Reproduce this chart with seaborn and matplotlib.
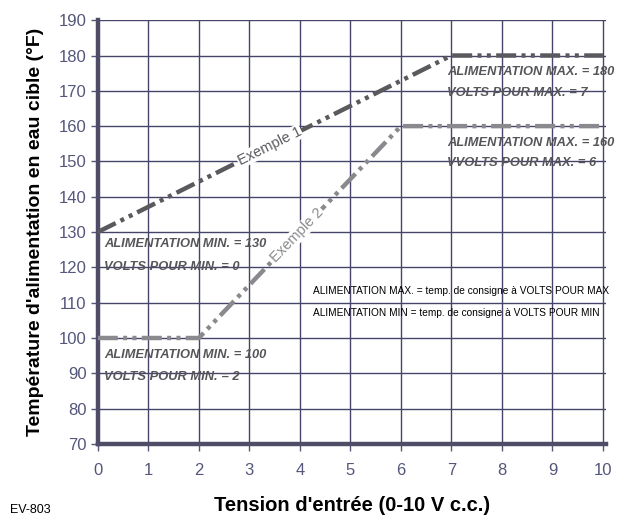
import matplotlib
matplotlib.use("Agg")
import matplotlib.pyplot as plt
import seaborn as sns
import pandas as pd

# Data
ex1_volts = [0, 7, 10]
ex1_temp = [130, 180, 180]
ex2_volts = [0, 2, 6, 10]
ex2_temp = [100, 100, 160, 160]
x_ticks = list(range(0, 11))
y_ticks = list(range(70, 191, 10))

sns.set_theme(style="white")
plt.rcParams['font.family'] = ['Liberation Sans', 'DejaVu Sans']

df1 = pd.DataFrame({"v": ex1_volts, "t": ex1_temp})
df2 = pd.DataFrame({"v": ex2_volts, "t": ex2_temp})

fig = plt.figure(figsize=(6.19, 5.18), dpi=100)
ax = fig.add_axes([0.158, 0.143, 0.821, 0.818])

grid_c = "#46446a"
spine_c = "#4f4c68"
tick_c = "#55577a"

ax.set_xlim(0, 10.06)
ax.set_ylim(70, 190)
ax.set_xticks(x_ticks)
ax.set_yticks(y_ticks)
ax.grid(True, color=grid_c, linewidth=1.0)
ax.set_axisbelow(True)

dash = (4.5, 1.2, 0.9, 1.2, 0.9, 1.2)
sns.lineplot(data=df1, x="v", y="t", ax=ax, color="#5a5a5e", linewidth=3.2,
             zorder=3).lines[-1].set_dashes(dash)
sns.lineplot(data=df2, x="v", y="t", ax=ax, color="#8a8a8e", linewidth=3.2,
             zorder=3).lines[-1].set_dashes(dash)

for s in ["top", "right"]:
    ax.spines[s].set_visible(False)
for s in ["left", "bottom"]:
    ax.spines[s].set_color(spine_c)
    ax.spines[s].set_linewidth(3.2)

ax.tick_params(axis="both", colors=tick_c, labelsize=12, length=5, width=1,
               direction="out", left=True, bottom=True)
ax.tick_params(axis="x", pad=9)
ax.tick_params(axis="y", pad=3)

ax.set_xlabel("Tension d'entrée (0-10 V c.c.)", fontsize=14.5, fontweight="bold",
              color="black", labelpad=13)
ax.set_ylabel("Température d'alimentation en eau cible (°F)", fontsize=14,
              fontweight="bold", color="black", labelpad=11)

# Curve labels
bb = dict(facecolor="white", edgecolor="none", pad=0.5)
ax.text(3.4, 154.3, "Exemple 1", rotation=26.5, fontsize=10.5, color="#5a5a5e",
        ha="center", va="center", bbox=bb, zorder=4, rotation_mode="anchor")
ax.text(3.95, 129.2, "Exemple 2", rotation=46, fontsize=10.5, color="#8a8a8e",
        ha="center", va="center", bbox=bb, zorder=4, rotation_mode="anchor")

ann_kw = dict(fontsize=9.3, fontweight="bold", fontstyle="italic",
              color="#55555a", va="center", ha="left")
ax.text(6.92, 175.2, "ALIMENTATION MAX. = 180", **ann_kw)
ax.text(6.92, 169.4, "VOLTS POUR MAX. = 7", **ann_kw)
ax.text(6.92, 155.2, "ALIMENTATION MAX. = 160", **ann_kw)
ax.text(6.92, 149.5, "VVOLTS POUR MAX. = 6", **ann_kw)
ax.text(0.12, 126.6, "ALIMENTATION MIN. = 130", **ann_kw)
ax.text(0.12, 120.2, "VOLTS POUR MIN. = 0", **ann_kw)
ax.text(0.12, 95.2, "ALIMENTATION MIN. = 100", **ann_kw)
ax.text(0.12, 89.0, "VOLTS POUR MIN. = 2", **ann_kw)

note_kw = dict(fontsize=7.3, color="black", va="center", ha="left")
ax.text(4.26, 113.2, "ALIMENTATION MAX. = temp. de consigne à VOLTS POUR MAX", **note_kw)
ax.text(4.26, 107.2, "ALIMENTATION MIN = temp. de consigne à VOLTS POUR MIN", **note_kw)

fig.text(0.016, 0.015, "EV-803", fontsize=9, color="black", ha="left", va="center")

fig.savefig("out.png", dpi=100)
